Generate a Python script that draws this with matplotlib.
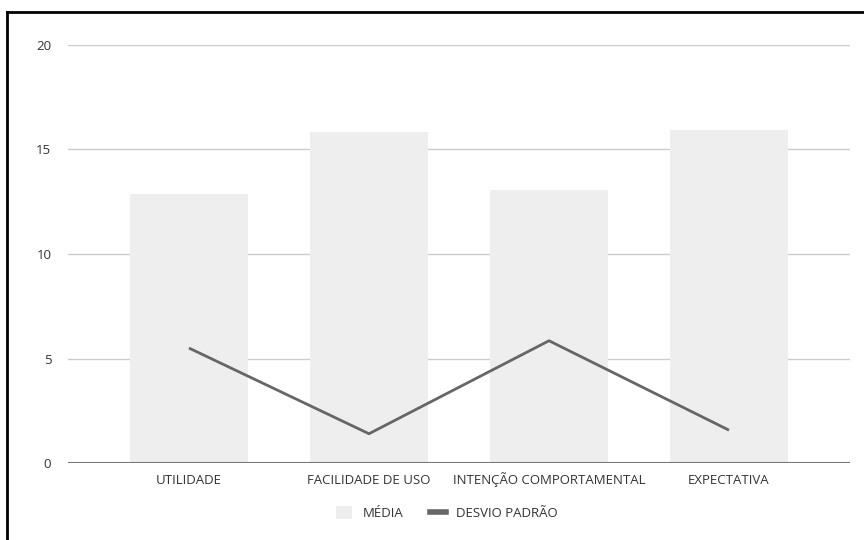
import matplotlib
matplotlib.use("Agg")
import matplotlib.pyplot as plt
from matplotlib.lines import Line2D
from matplotlib.patches import Patch

categories = ["UTILIDADE", "FACILIDADE DE USO", "INTENÇÃO COMPORTAMENTAL", "EXPECTATIVA"]
media = [12.85, 15.85, 13.05, 15.92]
desvio = [5.5, 1.4, 5.85, 1.57]
yticks = [0, 5, 10, 15, 20]

BAR = "#eeeeee"; LINE = "#666666"; GRID = "#cccccc"; TXT = "#333333"
plt.rcParams["font.family"] = ["Open Sans", "DejaVu Sans"]

fig = plt.figure(figsize=(8.64, 5.4), dpi=100)
ax = fig.add_axes([68 / 864, 1 - 463 / 540, (850 - 68) / 864, (463 - 45) / 540])

x = range(len(categories))
ax.bar(x, media, width=0.66, color=BAR, zorder=2)
ax.plot(x, desvio, color=LINE, lw=2, zorder=3, solid_capstyle="butt")

ax.set_xlim(-0.672, 3.672)
ax.set_ylim(0, 20)
ax.set_yticks(yticks)
ax.set_xticks(list(x))
ax.set_xticklabels(categories, va="baseline")
ax.grid(axis="y", color=GRID, lw=1, zorder=1)
ax.axhline(0, color="#777777", lw=1.5, zorder=4)
for s in ax.spines.values():
    s.set_visible(False)
ax.tick_params(length=0, labelsize=9.5, colors=TXT)
ax.tick_params(axis="y", pad=12)
ax.tick_params(axis="x", pad=15)

handles = [Patch(facecolor=BAR, edgecolor="none"),
           Line2D([0], [0], color=LINE, lw=4)]
fig.legend(handles, ["MÉDIA", "DESVIO PADRÃO"], loc="center",
           bbox_to_anchor=(447 / 864, 1 - 513 / 540), ncol=2, frameon=False,
           fontsize=9.5, labelcolor=TXT, handlelength=1.2, handleheight=1.2,
           columnspacing=2.0, handletextpad=0.8)

# black frame on top and left edges
fig.add_artist(Line2D([7 / 864, 1], [1 - 12 / 540] * 2, color="black", lw=2,
                      transform=fig.transFigure))
fig.add_artist(Line2D([7 / 864] * 2, [0, 1 - 12 / 540], color="black", lw=2,
                      transform=fig.transFigure))

fig.savefig("out.png", dpi=100)
